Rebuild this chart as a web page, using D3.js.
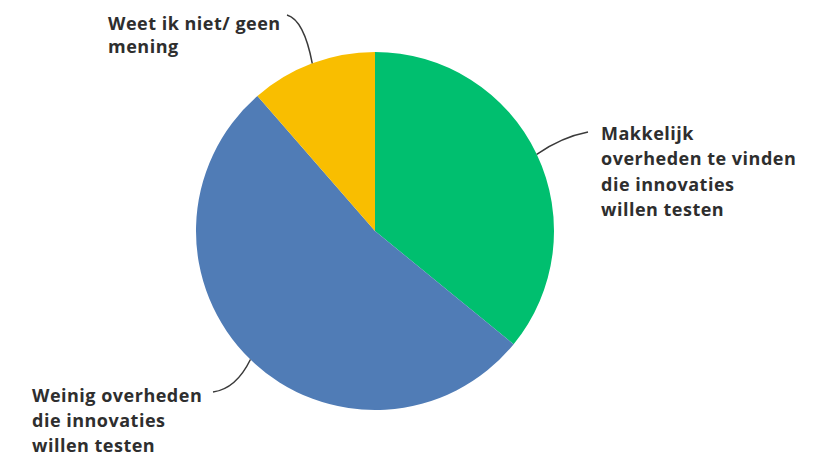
<!DOCTYPE html>
<html>
<head>
<meta charset="utf-8">
<script src="https://cdn.jsdelivr.net/npm/d3@7"></script>
<style>
  body { margin: 0; background: #fff; }
  .label { font-family: "Open Sans", sans-serif; font-weight: 700; font-size: 18px; letter-spacing: 0.5px; fill: #2e2e2e; }
  .leader { fill: none; stroke: #3a3a3a; stroke-width: 1.5; }
</style>
</head>
<body>
<div id="chart-area"></div>
<script>

// DATA

var categories = ["Makkelijk overheden te vinden die innovaties willen testen",
                  "Weinig overheden die innovaties willen testen",
                  "Weet ik niet/ geen mening"];
var values = [35.9, 52.7, 11.4];
var labelLines = [
    ["Makkelijk", "overheden te vinden", "die innovaties", "willen testen"],
    ["Weinig overheden", "die innovaties", "willen testen"],
    ["Weet ik niet/ geen", "mening"]
];
var colors = ["#00bf6f", "#507cb6", "#f9be00"];

// CHART AREA

var width = 821,
    height = 457,
    cx = 375,
    cy = 231,
    radius = 179;

var svg = d3.select("#chart-area").append("svg")
    .attr("width", width)
    .attr("height", height);

var g = svg.append("g")
    .attr("transform", "translate(" + cx + "," + cy + ")");

var pie = d3.pie()
    .sort(null)
    .value(function(d) { return d; });

var arc = d3.arc()
    .innerRadius(0)
    .outerRadius(radius);

var arcs = pie(values);

// ---- DRAW SLICES ----
g.selectAll(".slice")
    .data(arcs)
    .enter()
    .append("path")
    .attr("class", "slice")
    .attr("d", arc)
    .attr("fill", function(d, i) { return colors[i]; });

// ---- LABELS + LEADER LINES ----
// label anchor (end of leader line), control point, text position
var labelLayout = [
    {end: [588, 132], ctrl: [562, 137], x: 601, y: 140, anchor: "start"},
    {end: [213, 392], ctrl: [236, 389], x: 32, y: 402, anchor: "start"},
    {end: [287, 15], ctrl: [304, 20], x: 108, y: 30, anchor: "start"}
];
var lineHeight = [25.3, 24.8, 22.5];

arcs.forEach(function(a, i) {
    var mid = (a.startAngle + a.endAngle) / 2;
    var ex = cx + radius * Math.sin(mid),
        ey = cy - radius * Math.cos(mid);
    var L = labelLayout[i];

    var p = d3.path();
    p.moveTo(ex, ey);
    p.quadraticCurveTo(L.ctrl[0], L.ctrl[1], L.end[0], L.end[1]);
    svg.append("path")
        .attr("class", "leader")
        .attr("d", p.toString());

    var t = svg.append("text")
        .attr("class", "label")
        .attr("text-anchor", L.anchor);
    labelLines[i].forEach(function(line, j) {
        t.append("tspan")
            .attr("x", L.x)
            .attr("y", L.y + j * lineHeight[i])
            .text(line);
    });
});

</script>
</body>
</html>
